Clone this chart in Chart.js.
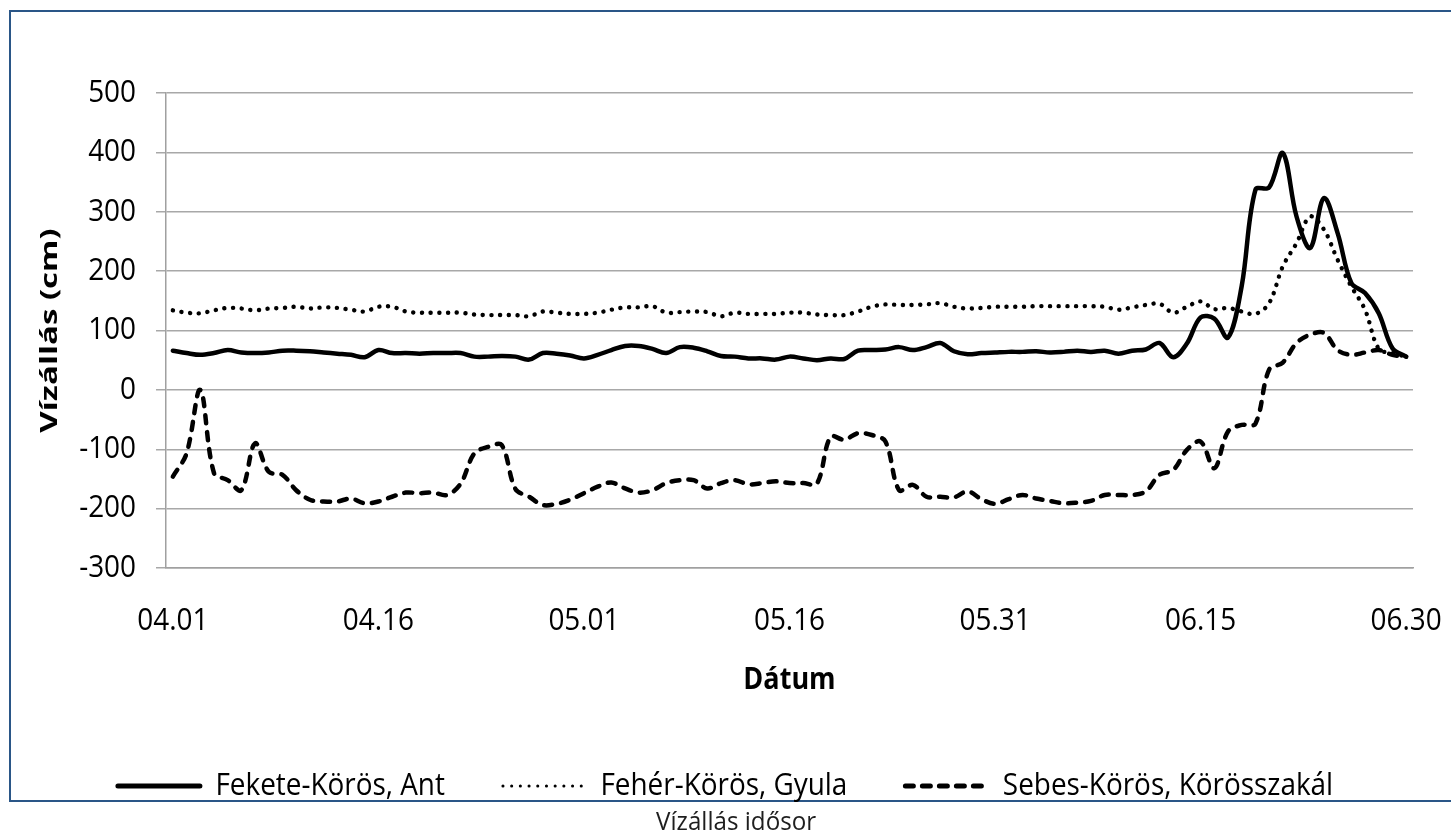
<!DOCTYPE html>
<html lang="hu">
<head>
<meta charset="utf-8">
<title>Vízállás idősor</title>
<script src="https://cdn.jsdelivr.net/npm/chart.js@4.4.1/dist/chart.umd.min.js"></script>
<style>
  html, body { margin: 0; padding: 0; background: #fff; }
  body { width: 1451px; height: 834px; overflow: hidden; position: relative; font-family: 'Open Sans', sans-serif; }
  #frame { position: absolute; left: 9px; top: 10px; width: 1480px; height: 788px; border: 2px solid #2a5687; }
  #chart { position: absolute; left: 0; top: 0; }
  #caption { position: absolute; left: 10px; top: 807px; width: 1452px; text-align: center; font-size: 26px; line-height: 26px; color: #1e1e1e; }
  #caption span { display: inline-block; transform: scaleX(0.93); transform-origin: center; }
</style>
</head>
<body>
<div id="frame"></div>
<canvas id="chart" width="1451" height="834"></canvas>
<div id="caption"><span>Vízállás idősor</span></div>
<script>
// Napi dátumok, április 1-től június 30-ig
const dates = [
  '04.01','04.02','04.03','04.04','04.05','04.06','04.07','04.08','04.09','04.10',
  '04.11','04.12','04.13','04.14','04.15','04.16','04.17','04.18','04.19','04.20',
  '04.21','04.22','04.23','04.24','04.25','04.26','04.27','04.28','04.29','04.30',
  '05.01','05.02','05.03','05.04','05.05','05.06','05.07','05.08','05.09','05.10',
  '05.11','05.12','05.13','05.14','05.15','05.16','05.17','05.18','05.19','05.20',
  '05.21','05.22','05.23','05.24','05.25','05.26','05.27','05.28','05.29','05.30',
  '05.31','06.01','06.02','06.03','06.04','06.05','06.06','06.07','06.08','06.09',
  '06.10','06.11','06.12','06.13','06.14','06.15','06.16','06.17','06.18','06.19',
  '06.20','06.21','06.22','06.23','06.24','06.25','06.26','06.27','06.28','06.29',
  '06.30'
];

// Feliratozott dátumok az x tengelyen
const tickLabels = ['04.01', '04.16', '05.01', '05.16', '05.31', '06.15', '06.30'];

// Vízállás (cm) – Fekete-Körös, Ant
const feketeAnt = [
  66, 62, 59, 62, 67, 63, 62, 63, 66, 66,
  65, 63, 61, 59, 55, 67, 62, 62, 61, 62,
  62, 62, 56, 56, 57, 56, 51, 62, 61, 58,
  53, 59, 67, 74, 74, 69, 62, 72, 71, 65,
  57, 56, 53, 53, 51, 56, 53, 50, 53, 52,
  66, 67, 68, 72, 67, 72, 79, 65, 60, 62,
  63, 64, 64, 65, 63, 64, 66, 64, 66, 61,
  66, 68, 79, 55, 78, 122, 120, 88, 175, 337,
  341, 399, 292, 239, 323, 264, 180, 163, 129, 70,
  56
];

// Vízállás (cm) – Fehér-Körös, Gyula
const feherGyula = [
  134, 130, 129, 134, 138, 137, 134, 137, 138, 140,
  137, 139, 138, 135, 132, 140, 140, 132, 130, 130,
  130, 130, 127, 126, 126, 126, 124, 132, 130, 128,
  128, 130, 135, 139, 139, 141, 130, 131, 132, 131,
  124, 130, 128, 128, 128, 130, 130, 127, 126, 126,
  132, 140, 144, 143, 143, 144, 146, 140, 137, 138,
  140, 140, 140, 141, 141, 141, 141, 141, 140, 135,
  139, 143, 145, 130, 140, 149, 136, 138, 132, 128,
  146, 208, 247, 292, 270, 219, 174, 135, 69, 62,
  56
];

// Vízállás (cm) – Sebes-Körös, Körösszakál
const sebesKorosszakal = [
  -146, -107, 0, -140, -152, -169, -90, -138, -143, -169,
  -185, -188, -188, -183, -191, -188, -180, -173, -174, -173,
  -177, -158, -107, -96, -93, -167, -180, -194, -192, -185,
  -174, -163, -156, -166, -173, -169, -157, -152, -152, -166,
  -157, -152, -159, -157, -154, -157, -157, -158, -79, -84,
  -73, -76, -87, -169, -160, -180, -180, -181, -171, -184,
  -192, -184, -177, -183, -187, -191, -190, -187, -177, -177,
  -177, -171, -143, -135, -101, -87, -132, -70, -59, -57,
  34, 46, 79, 93, 96, 67, 59, 63, 67, 59,
  56
];

const seriesNames = ['Fekete-Körös, Ant', 'Fehér-Körös, Gyula', 'Sebes-Körös, Körösszakál'];

// Keskenyített betűk: a vízszintes feliratok szélességét, a függőleges tengelycím vastagságát szűkítjük
const TEXT_SX = 0.9;
const ROTATED_SY = 0.72;
const canvas = document.getElementById('chart');
const ctx = canvas.getContext('2d');
const rawFillText = ctx.fillText.bind(ctx);
const rawMeasureText = ctx.measureText.bind(ctx);
ctx.fillText = function (text, x, y, maxWidth) {
  const m = ctx.getTransform();
  const rotated = Math.abs(m.b) > 1e-6;
  ctx.save();
  ctx.translate(x, y);
  if (rotated) ctx.scale(1, ROTATED_SY); else ctx.scale(TEXT_SX, 1);
  if (maxWidth === undefined) rawFillText(text, 0, 0);
  else rawFillText(text, 0, 0, rotated ? maxWidth : maxWidth / TEXT_SX);
  ctx.restore();
};
ctx.measureText = function (text) {
  const m = rawMeasureText(text);
  return {
    width: m.width * TEXT_SX,
    actualBoundingBoxLeft: m.actualBoundingBoxLeft * TEXT_SX,
    actualBoundingBoxRight: m.actualBoundingBoxRight * TEXT_SX,
    actualBoundingBoxAscent: m.actualBoundingBoxAscent,
    actualBoundingBoxDescent: m.actualBoundingBoxDescent,
    fontBoundingBoxAscent: m.fontBoundingBoxAscent,
    fontBoundingBoxDescent: m.fontBoundingBoxDescent
  };
};

Chart.defaults.font.family = "'Open Sans', sans-serif";
Chart.defaults.color = '#000';

const gridGray = '#a8a8a8';
// Jelmagyarázat mintavonalainak vastagsága sorozatonként
const legendLineWidths = [5, 3, 5];

new Chart(ctx, {
  type: 'line',
  data: {
    labels: dates,
    datasets: [
      {
        label: seriesNames[0],
        data: feketeAnt,
        borderColor: '#000',
        backgroundColor: '#000',
        borderWidth: 4.5,
        borderJoinStyle: 'round',
        borderCapStyle: 'round',
        tension: 0.35,
        pointRadius: 0,
        pointHoverRadius: 0
      },
      {
        label: seriesNames[1],
        data: feherGyula,
        borderColor: '#000',
        backgroundColor: '#000',
        borderWidth: 4.4,
        borderDash: [0.1, 8.6],
        borderCapStyle: 'round',
        tension: 0.35,
        pointRadius: 0,
        pointHoverRadius: 0
      },
      {
        label: seriesNames[2],
        data: sebesKorosszakal,
        borderColor: '#000',
        backgroundColor: '#000',
        borderWidth: 4.5,
        borderDash: [8, 9],
        borderCapStyle: 'round',
        tension: 0.35,
        pointRadius: 0,
        pointHoverRadius: 0
      }
    ]
  },
  options: {
    responsive: false,
    animation: false,
    devicePixelRatio: 1,
    events: [],
    layout: { padding: { top: 93, left: 0, right: 0, bottom: 22.5 } },
    scales: {
      x: {
        type: 'category',
        offset: true,
        grid: { display: false, drawTicks: false },
        border: { display: true, color: '#a0a0a0', width: 1.5 },
        ticks: {
          autoSkip: false,
          maxRotation: 0,
          minRotation: 0,
          padding: 34.6,
          font: { size: 31 },
          color: '#000',
          callback: function (value) {
            const label = this.getLabelForValue(value);
            return tickLabels.includes(label) ? label : '';
          }
        },
        title: {
          display: true,
          text: 'Dátum',
          font: { size: 30, weight: 'bold' },
          color: '#000',
          padding: { top: 0, bottom: 14 }
        },
        afterFit: (s) => { s.height = 144.5; s.paddingLeft = 0; s.paddingRight = 0; }
      },
      y: {
        position: 'left',
        min: -300,
        max: 500,
        ticks: { stepSize: 100, padding: 20, font: { size: 31 }, color: '#000' },
        grid: { color: gridGray, lineWidth: 1.5, drawTicks: true, tickLength: 10, tickColor: gridGray },
        border: { display: true, color: '#a0a0a0', width: 1.5 },
        title: {
          display: true,
          text: 'Vízállás (cm)',
          font: { size: 33, weight: 'bold' },
          color: '#000',
          padding: { top: 30.7, bottom: 0 }
        },
        afterFit: (s) => { s.width = 166; s.paddingTop = 0; s.paddingBottom = 0; }
      },
      yRight: {
        position: 'right',
        display: true,
        grid: { display: false, drawTicks: false },
        border: { display: false },
        ticks: { display: false },
        afterFit: (s) => { s.width = 38; s.paddingTop = 0; s.paddingBottom = 0; }
      }
    },
    plugins: {
      legend: {
        display: true,
        position: 'bottom',
        labels: {
          usePointStyle: true,
          pointStyle: 'line',
          pointStyleWidth: 82,
          padding: 58,
          color: '#000',
          font: { size: 31 },
          generateLabels: (chart) => chart.data.datasets.map((ds, i) => ({
            text: ds.label,
            datasetIndex: i,
            hidden: false,
            fillStyle: 'rgba(0,0,0,0)',
            strokeStyle: ds.borderColor,
            fontColor: '#000',
            lineWidth: legendLineWidths[i],
            lineDash: ds.borderDash || [],
            lineCap: ds.borderCapStyle || 'butt',
            lineJoin: 'miter',
            pointStyle: 'line',
            rotation: 0
          }))
        }
      },
      title: { display: false },
      tooltip: { enabled: false }
    }
  }
});
</script>
</body>
</html>
